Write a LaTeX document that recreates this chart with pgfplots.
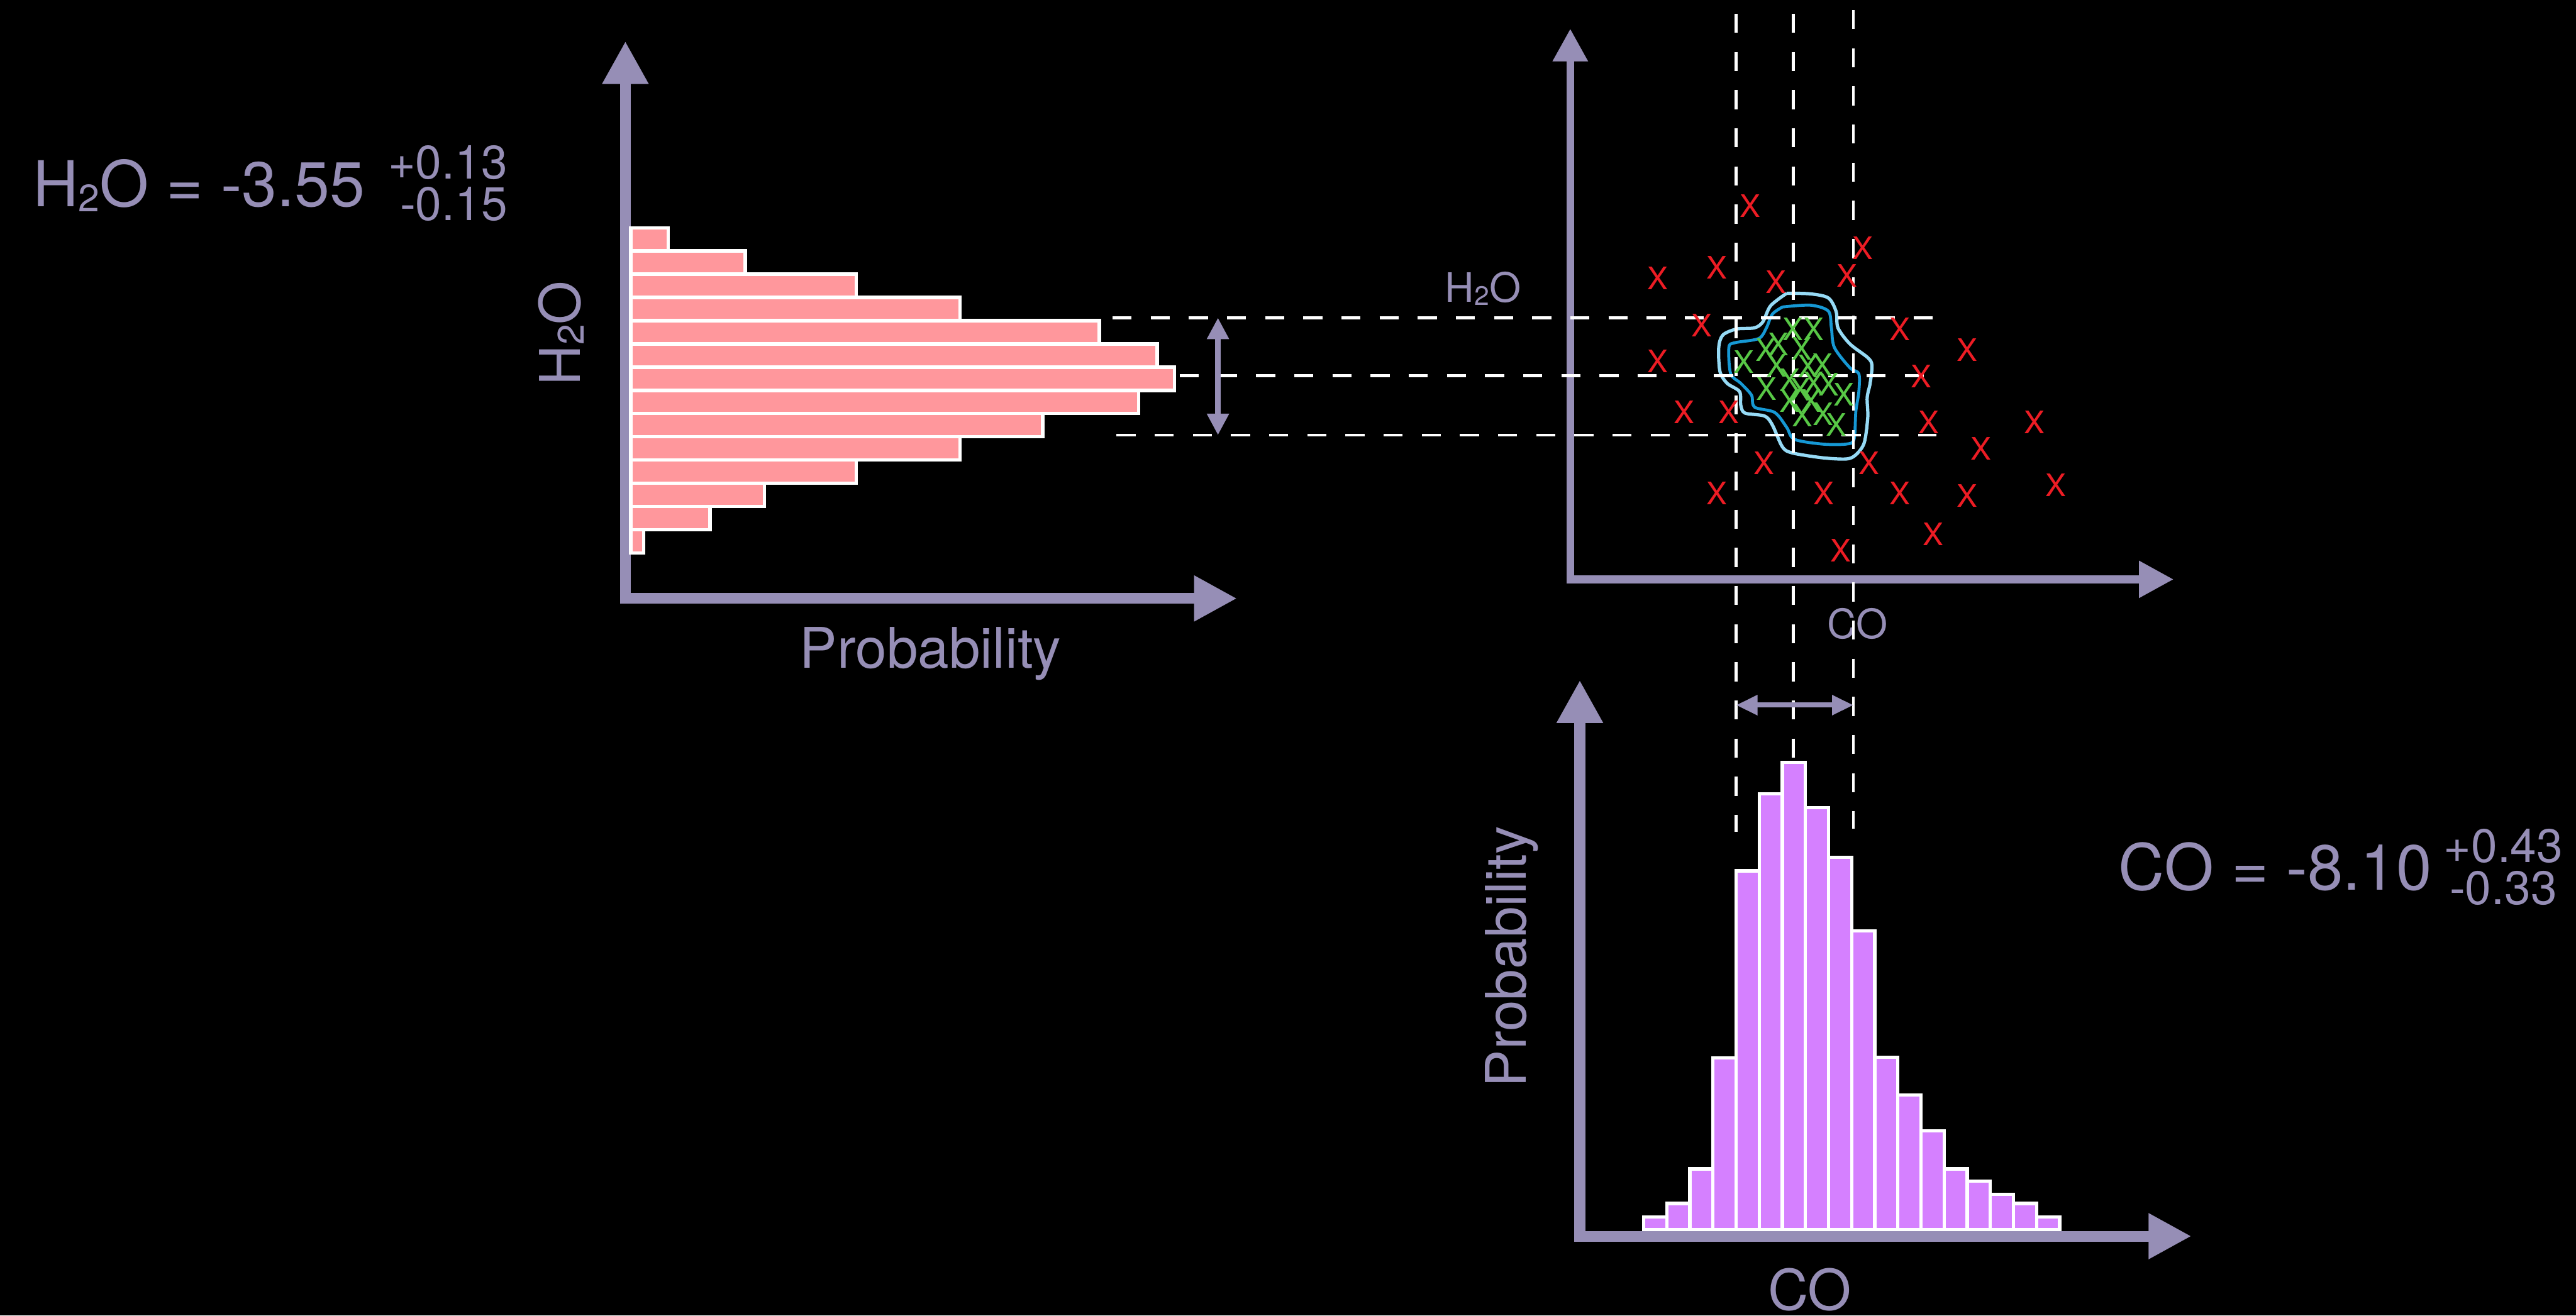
\documentclass[border=0pt]{standalone}
\usepackage{pgfplots}
\pgfplotsset{compat=1.18}
\usepackage{fontspec}
\setmainfont{TeX Gyre Heros}
\usetikzlibrary{arrows.meta}
\definecolor{axcol}{RGB}{150,142,182}
\definecolor{pinkbar}{RGB}{255,151,156}
\definecolor{purbar}{RGB}{213,128,255}
\definecolor{xred}{RGB}{237,28,36}
\definecolor{xgreen}{RGB}{88,200,70}
\definecolor{cout}{RGB}{150,218,245}
\definecolor{cin}{RGB}{22,152,212}
\newcommand{\fs}[1]{\fontsize{#1pt}{#1pt}\selectfont}
\begin{document}
\begin{tikzpicture}
\fill[black] (0,0) rectangle (432.1pt,220.7pt);
\begin{axis}[at={(0pt,0pt)}, anchor=south west, scale only axis,
  width=432.1pt, height=220.7pt, xmin=0, xmax=4321, ymin=0, ymax=2207,
  y dir=reverse, hide axis, clip=false]
% ---- axes with arrows
\draw[axcol, line width=1.8pt, -{Triangle[length=7.2pt,width=7.3pt]}] (axis cs:1049,1013) -- (axis cs:1049,69);
\draw[axcol, line width=1.8pt, -{Triangle[length=7.2pt,width=7.2pt]}] (axis cs:1040,1004) -- (axis cs:2075,1004);
\draw[axcol, line width=1.3pt, -{Triangle[length=5.5pt,width=5.6pt]}] (axis cs:2634,979) -- (axis cs:2634,48);
\draw[axcol, line width=1.3pt, -{Triangle[length=5.8pt,width=5.9pt]}] (axis cs:2628,972) -- (axis cs:3646,972);
\draw[axcol, line width=1.8pt, -{Triangle[length=7.2pt,width=7.3pt]}] (axis cs:2650,2083) -- (axis cs:2650,1141);
\draw[axcol, line width=1.8pt, -{Triangle[length=7.2pt,width=7.2pt]}] (axis cs:2641,2074) -- (axis cs:3676,2074);
% ---- contours
\addplot[smooth, cout, line width=0.55pt] coordinates {
(2997,492) (3037,493) (3067,500) (3080,523) (3083,550) (3103,577) (3133,600) (3140,613)
(3137,643) (3132,667) (3133,700) (3127,743) (3113,763) (3097,770) (3057,768) (3007,760)
(2990,750) (2973,713) (2960,698) (2927,693) (2920,680) (2918,657) (2897,643) (2885,623)
(2883,583) (2890,562) (2913,552) (2943,550) (2957,540) (2970,513) (2997,492)};
\addplot[smooth, cin, line width=0.5pt] coordinates {
(2990,515) (3037,512) (3067,522) (3072,550) (3077,583) (3103,617) (3118,627) (3118,657)
(3113,690) (3110,737) (3097,745) (3057,745) (3010,737) (2997,717) (2977,692) (2943,683)
(2938,663) (2920,643) (2903,627) (2900,583) (2910,575) (2950,568) (2963,550) (2973,527) (2990,515)};
% ---- samples
\addplot[only marks, color=xred, mark=text, text mark={X}, text mark as node=true,
  text mark style={font=\fs{5.2}, text=xred, inner sep=0pt}] coordinates {
(2936,345) (3125,416) (2781,467) (2880,449) (2979,473) (3098,463) (2855,546) (3187,552)
(3300,587) (2781,606) (3223,631) (2825,691) (2900,691) (3235,708) (3413,708) (3323,753)
(2959,777) (3135,777) (2880,828) (3059,828) (3187,828) (3300,832) (3449,814) (3243,896) (3088,924)};
\addplot[only marks, color=xgreen, mark=text, text mark={X}, text mark as node=true,
  text mark style={font=\fs{5.2}, text=xgreen, inner sep=0pt}] coordinates {
(3007,552) (3042,552) (2962,587) (2983,578) (3022,585) (2925,607) (2980,613) (3033,615)
(3057,612) (2963,652) (3002,638) (3042,643) (3068,645) (3093,662) (3002,673) (3020,653)
(3038,673) (3023,697) (3058,695) (3080,713)};
% ---- texts
\node[axcol, anchor=base west, font=\fs{10.6}, inner sep=0pt] at (axis cs:53,347) {H\raisebox{-0.8pt}{\fs{6.4}2}O = -3.55};
\node[axcol, anchor=base east, font=\fs{7.9}, inner sep=0pt] at (axis cs:853,300) {+0.13};
\node[axcol, anchor=base east, font=\fs{7.9}, inner sep=0pt] at (axis cs:853,370) {-0.15};
\node[axcol, anchor=base west, font=\fs{10.7}, inner sep=0pt] at (axis cs:3552,1493) {CO = -8.10};
\node[axcol, anchor=base east, font=\fs{7.9}, inner sep=0pt] at (axis cs:4301,1447) {+0.43};
\node[axcol, anchor=base east, font=\fs{7.9}, inner sep=0pt] at (axis cs:4291,1517) {-0.33};
\node[axcol, anchor=base, font=\fs{9.4}, inner sep=0pt] at (axis cs:1561,1121) {Probability};
\node[axcol, anchor=base, rotate=90, font=\fs{9.4}, inner sep=0pt] at (axis cs:973,559) {H\raisebox{-0.7pt}{\fs{6.2}2}O};
\node[axcol, anchor=base, rotate=90, font=\fs{9.4}, inner sep=0pt] at (axis cs:2560,1605) {Probability};
\node[axcol, anchor=base, font=\fs{9.4}, inner sep=0pt] at (axis cs:3036,2198) {CO};
\node[axcol, anchor=base west, font=\fs{6.8}, inner sep=0pt] at (axis cs:2422,507) {H\raisebox{-0.5pt}{\fs{4.5}2}O};
\node[axcol, anchor=base west, font=\fs{6.8}, inner sep=0pt] at (axis cs:3063,1071) {CO};
% ---- dashed guide lines
\draw[white, line width=0.5pt, dash pattern=on 3.2pt off 3.2pt] (axis cs:1866,533) -- (axis cs:3243,533);
\draw[white, line width=0.5pt, dash pattern=on 3.2pt off 3.2pt] (axis cs:1979,630) -- (axis cs:3243,630);
\draw[white, line width=0.5pt, dash pattern=on 3.2pt off 3.2pt] (axis cs:1873,730) -- (axis cs:3248,730);
\draw[white, line width=0.5pt, dash pattern=on 3.2pt off 3.2pt] (axis cs:2912,23) -- (axis cs:2912,1396);
\draw[white, line width=0.5pt, dash pattern=on 3.2pt off 3.2pt] (axis cs:3008,23) -- (axis cs:3008,1396);
\draw[white, line width=0.5pt, dash pattern=on 3.2pt off 3.2pt] (axis cs:3109,17) -- (axis cs:3109,1390);
% ---- double arrows
\draw[axcol, line width=0.9pt, {Triangle[length=3.6pt,width=3.5pt]}-{Triangle[length=3.6pt,width=3.5pt]}] (axis cs:2043,533) -- (axis cs:2043,730);
\draw[axcol, line width=0.85pt, {Triangle[length=3.6pt,width=3.2pt]}-{Triangle[length=3.6pt,width=3.2pt]}] (axis cs:2912,1183) -- (axis cs:3109,1183);
\end{axis}
% ---- H2O histogram (horizontal bars)
\begin{axis}[at={(105.8pt,127.9pt)}, anchor=south west, scale only axis,
  width=100pt, height=54.6pt, xmin=0, xmax=1000, ymin=0, ymax=14, hide axis, clip=false]
\addplot[xbar interval, fill=pinkbar, draw=white, line width=0.55pt] coordinates {
(22,0) (133,1) (224,2) (378,3) (552,4) (691,5) (852,6) (912,7) (883,8) (786,9) (552,10) (378,11) (192,12) (63,13) (63,14)};
\end{axis}
% ---- CO histogram (vertical bars)
\begin{axis}[at={(275.7pt,14.4pt)}, anchor=south west, scale only axis,
  width=69.8pt, height=100pt, xmin=0, xmax=18, ymin=0, ymax=1000, hide axis, clip=false]
\addplot[ybar interval, fill=purbar, draw=white, line width=0.55pt] coordinates {
(0,21) (1,44) (2,102) (3,288) (4,602) (5,731) (6,784) (7,708) (8,625) (9,501) (10,289) (11,226) (12,166) (13,102) (14,81) (15,59) (16,44) (17,21) (18,21)};
\end{axis}
\end{tikzpicture}
\end{document}
